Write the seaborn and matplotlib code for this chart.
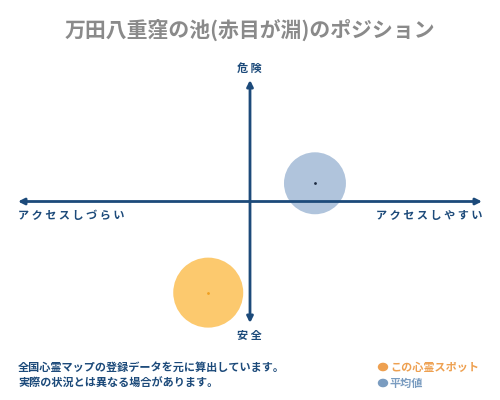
import matplotlib
matplotlib.use("Agg")
import matplotlib.pyplot as plt
import pandas as pd
import seaborn as sns

# ── data ──────────────────────────────────────────────────────────────────
title = "万田八重窪の池(赤目が淵)のポジション"
series = ["この心霊スポット", "平均値"]
access = [-0.18, 0.28]     # -1 = アクセスしづらい, +1 = アクセスしやすい
danger = [-0.75, 0.15]     # -1 = 安全, +1 = 危険
sizes = [2540, 1990]
note_lines = ["全国心霊マップの登録データを元に算出しています。",
              "実際の状況とは異なる場合があります。"]

NAVY = "#1c4a7a"
FILL = {"この心霊スポット": "#fcc96e", "平均値": "#b0c4dc"}
DOT = {"この心霊スポット": "#f0a020", "平均値": "#1c2a40"}
LEG = {"この心霊スポット": "#eea050", "平均値": "#7a9cc0"}

sns.set_style("white")
plt.rcParams["font.family"] = ["Noto Sans CJK JP", "DejaVu Sans"]

df = pd.DataFrame({"series": series, "access": access,
                   "danger": danger, "size": sizes})

fig = plt.figure(figsize=(5, 4), dpi=100)
ax = fig.add_axes([18 / 500, 77 / 400, 464 / 500, 243 / 400])
ax.set_xlim(-1, 1)
ax.set_ylim(-1, 1)
ax.axis("off")

sns.scatterplot(data=df, x="access", y="danger", hue="series",
                palette=FILL, size="size", sizes=(min(sizes), max(sizes)),
                legend=False, linewidth=0, ax=ax, zorder=1, clip_on=False)
for s, x, y in zip(series, access, danger):
    ax.scatter([x], [y], s=4, color=DOT[s], zorder=4, linewidths=0)

# axes arrows
arrow = dict(arrowstyle="<|-|>", color=NAVY, lw=2,
             mutation_scale=9, shrinkA=0, shrinkB=0)
ax.annotate("", xy=(1, 0), xytext=(-1, 0), arrowprops=arrow, zorder=3)
ax.annotate("", xy=(0, 1), xytext=(0, -1), arrowprops=arrow, zorder=3)

lab = dict(color=NAVY, fontsize=8, fontweight="bold")
fig.text(249 / 500, 1 - 68 / 400, "危 険", ha="center", va="center", **lab)
fig.text(249 / 500, 1 - 335 / 400, "安 全", ha="center", va="center", **lab)
fig.text(18 / 500, 1 - 216 / 400, " ".join("アクセスしづらい"),
         ha="left", va="center", **lab)
fig.text(482 / 500, 1 - 216 / 400, " ".join("アクセスしやすい"),
         ha="right", va="center", **lab)

fig.text(0.5, 1 - 30 / 400, title, ha="center", va="center",
         color="#8a8a8a", fontsize=15, fontweight="bold")

for i, line in enumerate(note_lines):
    fig.text(18 / 500, 1 - (367 + 16 * i) / 400, line, ha="left",
             va="center", color=NAVY, fontsize=8, fontweight="bold")

for i, s in enumerate(series):
    yy = 1 - (367 + 16 * i) / 400
    fig.patches.append(plt.Circle((383 / 500, yy), 4.5 / 500,
                                  transform=fig.transFigure,
                                  color=LEG[s], figure=fig))
    fig.text(390 / 500, yy, s, ha="left", va="center",
             color=LEG[s], fontsize=8, fontweight="bold")

fig.savefig("out.png", dpi=100)
